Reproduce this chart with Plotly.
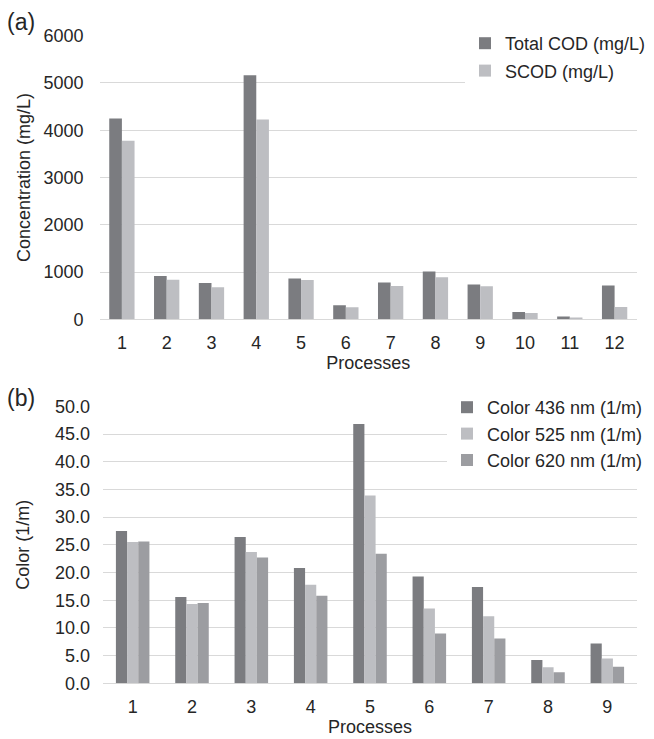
import plotly.graph_objects as go

# ---- data (a) ----
processes_a = [str(i) for i in range(1, 13)]
total_cod = [4250, 915, 770, 5165, 862, 295, 780, 1010, 735, 155, 60, 713]
scod = [3775, 835, 680, 4225, 830, 255, 705, 890, 700, 135, 40, 260]

# ---- data (b) ----
processes_b = [str(i) for i in range(1, 10)]
color_436 = [27.5, 15.6, 26.4, 20.8, 46.8, 19.3, 17.4, 4.2, 7.2]
color_525 = [25.5, 14.3, 23.7, 17.8, 33.9, 13.5, 12.1, 2.9, 4.5]
color_620 = [25.6, 14.5, 22.7, 15.8, 23.4, 9.0, 8.1, 2.0, 3.0]

W, H = 654, 739
DARK = "#7b7c80"
LIGHT = "#bdbec2"
MID = "#9c9da1"
GRID = "#d9d9d9"
TXT = "#262626"
FONT = "Liberation Sans"
FS = 18

def px(x):
    return x / W

def py(y):
    return 1 - y / H

fig = go.Figure()

fig.add_trace(go.Bar(x=processes_a, y=total_cod, name="Total COD (mg/L)",
                     marker=dict(color=DARK, line=dict(width=0)),
                     xaxis="x", yaxis="y", legend="legend", legendgroup="a1"))
fig.add_trace(go.Bar(x=processes_a, y=scod, name="SCOD (mg/L)",
                     marker=dict(color=LIGHT, line=dict(width=0)),
                     xaxis="x", yaxis="y", legend="legend", legendgroup="a2"))

fig.add_trace(go.Bar(x=processes_b, y=color_436, name="Color 436 nm (1/m)",
                     marker=dict(color=DARK, line=dict(width=0)),
                     xaxis="x2", yaxis="y2", legend="legend2", legendgroup="b1"))
fig.add_trace(go.Bar(x=processes_b, y=color_525, name="Color 525 nm (1/m)",
                     marker=dict(color=LIGHT, line=dict(width=0)),
                     xaxis="x2", yaxis="y2", legend="legend2", legendgroup="b2"))
fig.add_trace(go.Bar(x=processes_b, y=color_620, name="Color 620 nm (1/m)",
                     marker=dict(color=MID, line=dict(width=0)),
                     xaxis="x2", yaxis="y2", legend="legend2", legendgroup="b3"))

tickfont = dict(family=FONT, size=FS, color=TXT)
titlefont = dict(family=FONT, size=FS, color=TXT)

fig.update_layout(
    template="none",
    width=W, height=H,
    margin=dict(l=0, r=0, t=0, b=0, pad=0),
    paper_bgcolor="white", plot_bgcolor="white",
    barmode="group",
    font=dict(family=FONT, color=TXT),
    xaxis=dict(domain=[px(99.5), px(637)], anchor="y", automargin=False,
               type="category", showgrid=False, zeroline=False, showline=False,
               ticks="outside", ticklen=7, tickcolor="rgba(0,0,0,0)",
               tickfont=tickfont,
               title=dict(text="Processes", font=titlefont, standoff=2)),
    yaxis=dict(domain=[py(319.3), py(35.7)], anchor="x", automargin=False,
               range=[0, 6000], dtick=1000, tickformat="d",
               showgrid=True, gridcolor=GRID, gridwidth=1,
               zeroline=True, zerolinecolor=GRID, zerolinewidth=1,
               showline=False, ticks="", ticklabelstandoff=15,
               tickfont=tickfont,
               title=dict(text="Concentration (mg/L)", font=titlefont, standoff=8)),
    xaxis2=dict(domain=[px(103), px(637)], anchor="y2", automargin=False,
                type="category", showgrid=False, zeroline=False, showline=False,
                ticks="outside", ticklen=7, tickcolor="rgba(0,0,0,0)",
                tickfont=tickfont,
                title=dict(text="Processes", font=titlefont, standoff=2)),
    yaxis2=dict(domain=[py(683.3), py(406.4)], anchor="x2", automargin=False,
                range=[0, 50], dtick=5, tickformat=".1f",
                showgrid=True, gridcolor=GRID, gridwidth=1,
                zeroline=True, zerolinecolor=GRID, zerolinewidth=1,
                showline=False, ticks="", ticklabelstandoff=12,
                tickfont=tickfont,
                title=dict(text="Color (1/m)", font=titlefont, standoff=20)),
    legend=dict(x=px(465), y=py(25), xanchor="left", yanchor="top",
                xref="paper", yref="paper",
                bgcolor="white", borderwidth=0,
                font=dict(family=FONT, size=FS, color=TXT),
                traceorder="grouped", tracegroupgap=1, itemwidth=30),
    legend2=dict(x=px(447), y=py(389), xanchor="left", yanchor="top",
                 xref="paper", yref="paper",
                 bgcolor="white", borderwidth=0,
                 font=dict(family=FONT, size=FS, color=TXT),
                 traceorder="grouped", tracegroupgap=0, itemwidth=30),
    showlegend=True,
)

fig.update_layout(bargap=0.435, bargroupgap=0)

fig.add_annotation(text="(a)", x=px(5), y=py(22), xref="paper", yref="paper",
                   xanchor="left", yanchor="middle", showarrow=False,
                   font=dict(family=FONT, size=23, color=TXT))
fig.add_annotation(text="(b)", x=px(5), y=py(398), xref="paper", yref="paper",
                   xanchor="left", yanchor="middle", showarrow=False,
                   font=dict(family=FONT, size=23, color=TXT))

fig.write_html("out.html")
